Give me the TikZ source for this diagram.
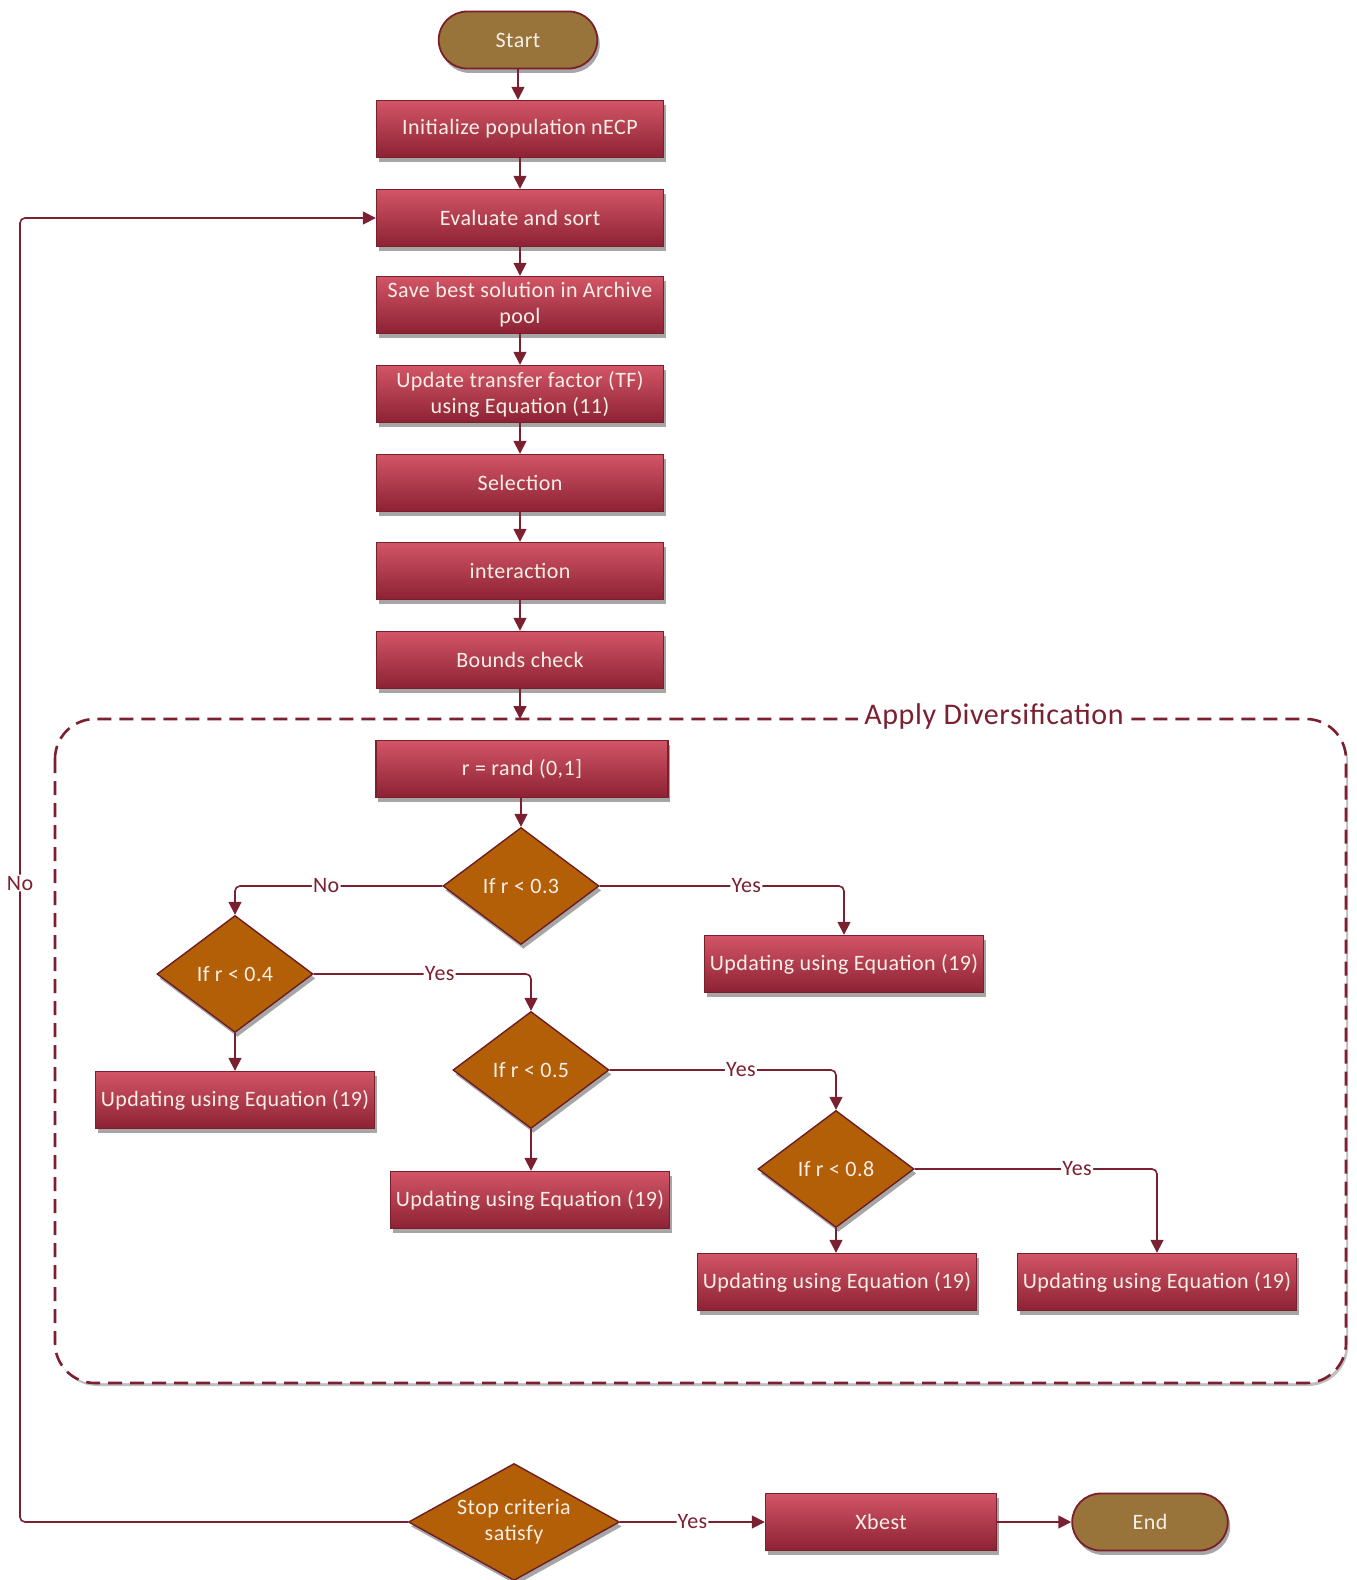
\documentclass[tikz,border=0pt]{standalone}
\usepackage{fontspec}
\setmainfont{Carlito}[LetterSpace=2]
\usetikzlibrary{shapes.geometric,shapes.misc,arrows.meta,shadows}
\definecolor{boxtop}{HTML}{D25566}
\definecolor{boxbot}{HTML}{8C2234}
\definecolor{boxline}{HTML}{7A1F2B}
\definecolor{decfill}{HTML}{B35F07}
\definecolor{decline}{HTML}{6E1E22}
\definecolor{termfill}{HTML}{98733A}
\definecolor{linecol}{HTML}{7B2030}
\definecolor{txtcol}{HTML}{F6EFE6}
\tikzset{
  shadowed/.style={drop shadow={shadow xshift=1.2pt,shadow yshift=-2.2pt,opacity=.35,fill=black}},
  procbox/.style={rectangle,draw=boxline,line width=0.7pt,top color=boxtop,bottom color=boxbot,
    minimum width=143.5pt,minimum height=28.5pt,inner sep=1pt,text=txtcol,align=center,
    font=\fontsize{11}{13}\selectfont,shadowed},
  updbox/.style={procbox,minimum width=139.5pt},
  decbox/.style={diamond,draw=decline,line width=0.7pt,fill=decfill,minimum width=78pt,minimum height=58.5pt,
    inner sep=0pt,text=txtcol,align=center,font=\fontsize{11}{13}\selectfont,shadowed},
  termbox/.style={rounded rectangle,draw=boxline,line width=0.9pt,fill=termfill,minimum width=86pt,
    minimum height=28.5pt,text=txtcol,font=\fontsize{11}{13}\selectfont,shadowed},
  conn/.style={draw=linecol,line width=0.8pt,-{Triangle[width=6.5pt,length=6.5pt]},rounded corners=2.5pt},
  lbl/.style={fill=white,inner sep=0.6pt,text=linecol,font=\fontsize{11}{12}\selectfont},
}
\begin{document}
\begin{tikzpicture}[x=0.5pt,y=-0.5pt]
\useasboundingbox (0,0) rectangle (1356,1580);
% dashed region
\draw[draw=linecol,fill=white,line width=1.3pt,dash pattern=on 7pt off 4pt,rounded corners=20pt,
  drop shadow={shadow xshift=1pt,shadow yshift=-1.5pt,opacity=.25,fill=black}]
  (55,719) rectangle (1346,1383);
\node[fill=white,inner sep=3pt,text=linecol,font=\fontsize{15}{17}\selectfont] (divlbl) at (994,716) {Apply Diversification};
\coordinate (dtop) at (520,719);

\node[termbox] (start) at (518,40) {Start};
\node[procbox] (init) at (520,129) {Initialize population nECP};
\node[procbox] (eval) at (520,218) {Evaluate and sort};
\node[procbox] (save) at (520,305) {Save best solution in Archive\\pool};
\node[procbox] (upd) at (520,394) {Update transfer factor (TF)\\using Equation (11)};
\node[procbox] (sel) at (520,483) {Selection};
\node[procbox] (inter) at (520,571) {interaction};
\node[procbox] (bounds) at (520,660) {Bounds check};

\node[procbox,minimum width=146pt] (rand) at (522,769) {r = rand (0,1]};
\node[decbox] (d3) at (521,886) {If r {\textless} 0.3};
\node[decbox] (d4) at (235,974) {If r {\textless} 0.4};
\node[decbox] (d5) at (531,1070) {If r {\textless} 0.5};
\node[decbox] (d8) at (836,1169) {If r {\textless} 0.8};
\node[updbox] (u1) at (844,964) {Updating using Equation (19)};
\node[updbox] (u2) at (235,1100) {Updating using Equation (19)};
\node[updbox] (u3) at (530,1200) {Updating using Equation (19)};
\node[updbox] (u4) at (837,1282) {Updating using Equation (19)};
\node[updbox] (u5) at (1157,1282) {Updating using Equation (19)};

\node[decbox,aspect=1.8,minimum width=105.5pt] (stop) at (514,1522) {Stop criteria\\satisfy};
\node[procbox,minimum width=115.5pt] (xbest) at (881,1522) {Xbest};
\node[termbox,minimum width=84.5pt] (end) at (1150,1522) {End};
\coordinate (nox) at (20,1522);

\draw[conn] (start.south) -- (start.south |- init.north);
\draw[conn] (init) -- (eval);
\draw[conn] (eval) -- (save);
\draw[conn] (save) -- (upd);
\draw[conn] (upd) -- (sel);
\draw[conn] (sel) -- (inter);
\draw[conn] (inter) -- (bounds);
\draw[conn] (bounds.south) -- (bounds.south |- dtop);
\draw[conn] (d3.north |- rand.south) -- (d3.north);
\draw[conn] (d3.west) -| node[lbl,pos=0.28] {No} (d4.north);
\draw[conn] (d3.east) -| node[lbl,pos=0.3] {Yes} (u1.north);
\draw[conn] (d4.east) -| node[lbl,pos=0.29] {Yes} (d5.north);
\draw[conn] (d5.east) -| node[lbl,pos=0.29] {Yes} (d8.north);
\draw[conn] (d8.east) -| node[lbl,pos=0.335] {Yes} (u5.north);
\draw[conn] (d4.south) -- (u2.north);
\draw[conn] (d5.south) -- (d5.south |- u3.north);
\draw[conn] (d8.south) -- (d8.south |- u4.north);
\draw[conn] (stop.east) -- node[lbl] {Yes} (xbest.west);
\draw[conn] (xbest.east) -- (end.west);
\draw[conn] (stop.west) -- (nox) -- node[lbl,pos=0.49] {No} (nox |- eval.west) -- (eval.west);
\end{tikzpicture}
\end{document}
